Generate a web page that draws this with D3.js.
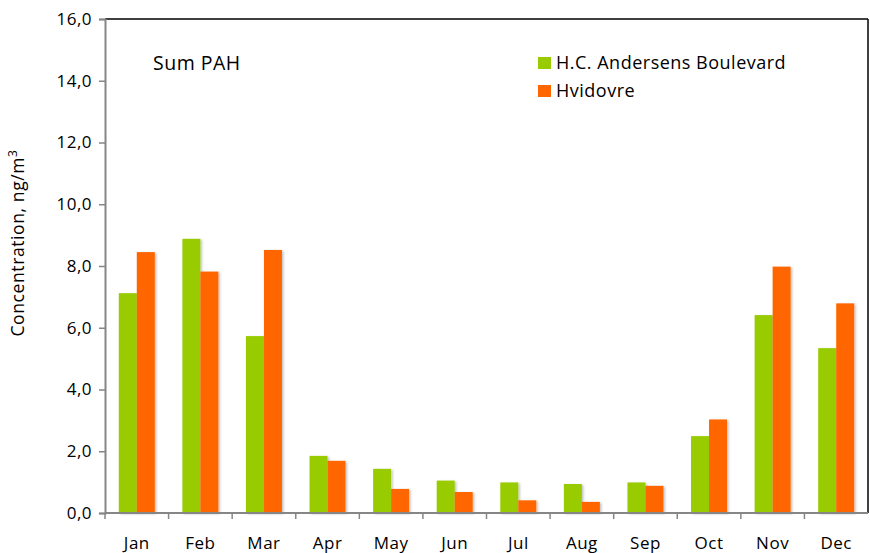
<!DOCTYPE html>
<html>
<head>
<meta charset="utf-8">
<script src="https://cdn.jsdelivr.net/npm/d3@7"></script>
<style>
  body { margin: 0; background: #fff; }
  text { font-family: "Open Sans", Lato, sans-serif; fill: #000; }
</style>
</head>
<body>
<div id="chart"></div>
<script>
// data
var months = ["Jan", "Feb", "Mar", "Apr", "May", "Jun", "Jul", "Aug", "Sep", "Oct", "Nov", "Dec"];
var seriesNames = ["H.C. Andersens Boulevard", "Hvidovre"];
var hcaValues = [7.12, 8.88, 5.73, 1.85, 1.43, 1.05, 0.99, 0.94, 0.99, 2.49, 6.41, 5.34];
var hvidovreValues = [8.45, 7.82, 8.52, 1.69, 0.78, 0.68, 0.41, 0.36, 0.88, 3.03, 7.98, 6.79];
var yTicks = [0, 2, 4, 6, 8, 10, 12, 14, 16];
var colors = ["#99cc00", "#ff6600"];

var width = 870, height = 553;
var margin = {top: 19, right: 2, bottom: 40, left: 105};

var svg = d3.select("#chart").append("svg")
    .attr("width", width)
    .attr("height", height);

// soft shadow under the bars
var defs = svg.append("defs");
var filt = defs.append("filter").attr("id", "shadow")
    .attr("x", "-20%").attr("y", "-5%").attr("width", "150%").attr("height", "115%");
filt.append("feDropShadow")
    .attr("dx", 1.5).attr("dy", 1).attr("stdDeviation", 1.2)
    .attr("flood-color", "#000").attr("flood-opacity", 0.25);

var x0 = d3.scaleBand()
    .domain(months)
    .range([margin.left, width - margin.right])
    .paddingInner(0.434)
    .paddingOuter(0.217);

var x1 = d3.scaleBand()
    .domain([0, 1])
    .range([0, x0.bandwidth()]);

var y = d3.scaleLinear()
    .domain([0, 16])
    .range([height - margin.bottom, margin.top]);

var rows = months.map(function(m, i) {
    return {month: m, values: [hcaValues[i], hvidovreValues[i]]};
});

// frame: top and right in black
svg.append("line")
    .attr("x1", margin.left).attr("x2", width - margin.right)
    .attr("y1", y(16)).attr("y2", y(16))
    .attr("stroke", "#000").attr("stroke-width", 1.5);
svg.append("line")
    .attr("x1", width - margin.right).attr("x2", width - margin.right)
    .attr("y1", y(16)).attr("y2", y(0))
    .attr("stroke", "#000").attr("stroke-width", 1.5);

// bars
var groups = svg.append("g").selectAll("g")
    .data(rows)
    .enter()
    .append("g")
    .attr("transform", function(d) { return "translate(" + x0(d.month) + ",0)"; });

groups.selectAll("rect")
    .data(function(d) { return d.values; })
    .enter()
    .append("rect")
    .attr("x", function(d, i) { return x1(i); })
    .attr("y", function(d) { return y(d); })
    .attr("width", x1.bandwidth())
    .attr("height", function(d) { return y(0) - y(d); })
    .attr("fill", function(d, i) { return colors[i]; })
    .attr("filter", "url(#shadow)");

// y axis
var yAxis = svg.append("g")
    .attr("transform", "translate(" + margin.left + ",0)")
    .call(d3.axisLeft(y)
        .tickValues(yTicks)
        .tickSize(6)
        .tickPadding(7)
        .tickFormat(function(d) { return d3.format(".1f")(d).replace(".", ","); }));
yAxis.select(".domain").attr("stroke", "#868686").attr("stroke-width", 2);
yAxis.selectAll(".tick line").attr("stroke", "#868686").attr("stroke-width", 1.5);
yAxis.selectAll(".tick text").style("font-size", "17px").style("letter-spacing", "0.5px").attr("fill", "#000");

// x axis, ticks between months
var xAxisG = svg.append("g")
    .attr("transform", "translate(0," + y(0) + ")");
xAxisG.append("line")
    .attr("x1", margin.left).attr("x2", width - margin.right)
    .attr("stroke", "#868686").attr("stroke-width", 2);
var step = x0.step();
xAxisG.selectAll(".sep")
    .data(months)
    .enter()
    .append("line")
    .attr("class", "sep")
    .attr("x1", function(d) { return x0(d) - x0.paddingOuter() * step; })
    .attr("x2", function(d) { return x0(d) - x0.paddingOuter() * step; })
    .attr("y1", 0).attr("y2", 6)
    .attr("stroke", "#868686").attr("stroke-width", 1.5);
xAxisG.selectAll(".lbl")
    .data(months)
    .enter()
    .append("text")
    .attr("class", "lbl")
    .attr("x", function(d) { return x0(d) + x0.bandwidth() / 2; })
    .attr("y", 36)
    .attr("text-anchor", "middle")
    .style("font-size", "17px")
    .style("letter-spacing", "0.5px")
    .text(function(d) { return d; });

// y axis title
var yTitle = svg.append("text")
    .attr("transform", "translate(24,243) rotate(-90)")
    .attr("text-anchor", "middle")
    .style("font-size", "17.5px")
    .style("letter-spacing", "0.6px");
yTitle.append("tspan").text("Concentration, ng/m");
yTitle.append("tspan").attr("dy", -7).style("font-size", "12px").text("3");

// chart label
svg.append("text")
    .attr("x", 153).attr("y", 70)
    .style("font-size", "19.5px")
    .style("letter-spacing", "0.5px")
    .text("Sum PAH");

// legend
var legend = svg.append("g").selectAll("g")
    .data(seriesNames)
    .enter()
    .append("g")
    .attr("transform", function(d, i) { return "translate(538," + (57 + i * 28) + ")"; });
legend.append("rect")
    .attr("width", 13).attr("height", 12)
    .attr("fill", function(d, i) { return colors[i]; });
legend.append("text")
    .attr("x", 18).attr("y", 12)
    .style("font-size", "18px")
    .style("letter-spacing", "0.5px")
    .text(function(d) { return d; });
</script>
</body>
</html>
